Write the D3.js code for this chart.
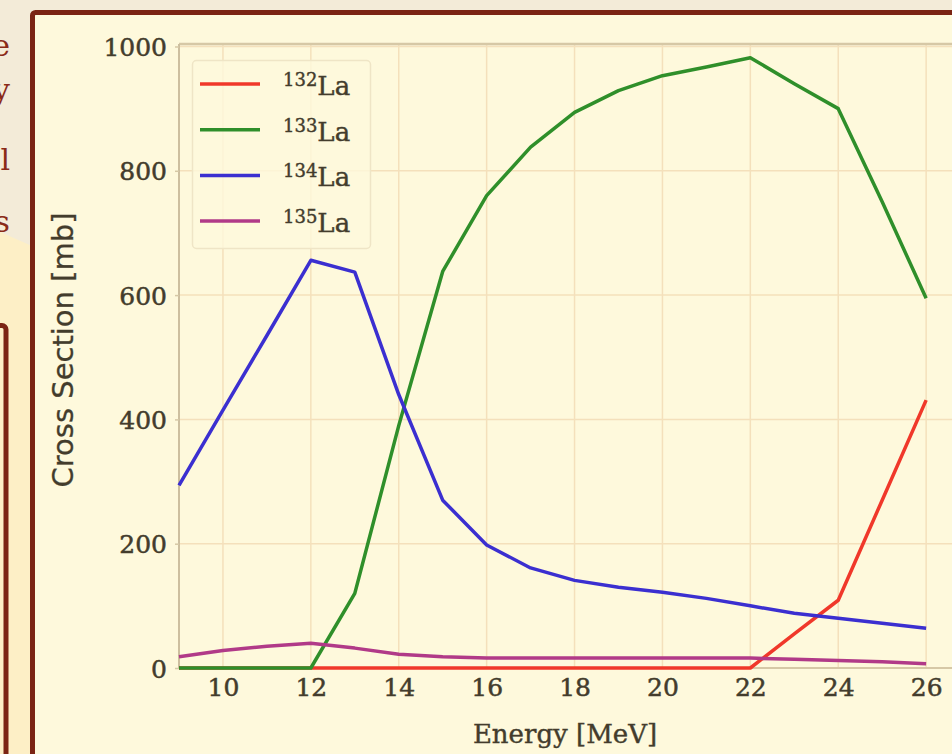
<!DOCTYPE html>
<html>
<head>
<meta charset="utf-8">
<script src="https://cdn.jsdelivr.net/npm/d3@7"></script>
<style>
  html, body { margin: 0; padding: 0; background: #f3ebd8; overflow: hidden; }
  svg { display: block; }
</style>
</head>
<body>
<div id="chart"></div>
<script>
// energies in MeV
const energies = [9, 10, 11, 12, 13, 14, 15, 16, 17, 18, 19, 20, 21, 22, 23, 24, 25, 26];

// cross sections in mb
const la132 = [0, 0, 0, 0, 0, 0, 0, 0, 0, 0, 0, 0, 0, 0, 55, 109, 270, 431];
const la133 = [0, 0, 0, 0, 120, 390, 638, 760, 838, 894, 929, 953, 967, 982, 940, 900, 750, 595];
const la134 = [294, 415, 535, 656, 637, 440, 270, 198, 161, 141, 130, 122, 112, 100, 88, 80, 72, 64];
const la135 = [18, 28, 35, 40, 32, 22, 18, 16, 16, 16, 16, 16, 16, 16, 14, 12, 10, 7];

const seriesNames = ["132", "133", "134", "135"];
const seriesColors = ["#f0382a", "#2f8f2a", "#3b2fd0", "#b13a88"];
const seriesValues = [la132, la133, la134, la135];

const xTicks = [10, 12, 14, 16, 18, 20, 22, 24, 26];
const yTicks = [0, 200, 400, 600, 800, 1000];

const W = 952, H = 754;
const textColor = "#433c2c";

const svg = d3.select("#chart").append("svg")
    .attr("width", W)
    .attr("height", H);

// slide background pieces on the left
svg.append("rect").attr("x", 0).attr("y", 0).attr("width", W).attr("height", H).attr("fill", "#f3ebd8");
svg.append("path")
    .attr("d", "M0,232 L32,246 L32,754 L0,754 Z")
    .attr("fill", "#fdefc6");
svg.append("rect")
    .attr("x", -60).attr("y", 325.5)
    .attr("width", 66).attr("height", 500)
    .attr("rx", 4)
    .attr("fill", "#fdefc6")
    .attr("stroke", "#7b2413")
    .attr("stroke-width", 5);

// ends of words from the slide text, cut by the picture's left edge
const sideText = [
    { t: "e", y: 56 },
    { t: "y", y: 100 },
    { t: "l", y: 170 },
    { t: "s", y: 232 }
];
svg.selectAll("text.side")
    .data(sideText)
    .enter().append("text")
    .attr("class", "side")
    .attr("x", 10)
    .attr("y", d => d.y)
    .attr("text-anchor", "end")
    .attr("font-family", "DejaVu Serif, serif")
    .attr("font-size", 30)
    .attr("fill", "#8a2a18")
    .text(d => d.t);

// chart frame
svg.append("rect")
    .attr("x", 32.5).attr("y", 12.5)
    .attr("width", 1000).attr("height", 900)
    .attr("rx", 3)
    .attr("fill", "#fef9dc")
    .attr("stroke", "#7b2413")
    .attr("stroke-width", 5);

// scales
const x = d3.scaleLinear().domain([9, 26.6]).range([179, 952.5]);
const y = d3.scaleLinear().domain([0, 1004]).range([668, 44]);

const plot = svg.append("g");

// grid
plot.selectAll("line.vgrid")
    .data(xTicks)
    .enter().append("line")
    .attr("x1", d => x(d)).attr("x2", d => x(d))
    .attr("y1", y(0)).attr("y2", y(1004))
    .attr("stroke", "#f4e0bb")
    .attr("stroke-width", 1.5);

plot.selectAll("line.hgrid")
    .data(yTicks)
    .enter().append("line")
    .attr("x1", x(9)).attr("x2", x(26.6))
    .attr("y1", d => y(d)).attr("y2", d => y(d))
    .attr("stroke", "#f4e0bb")
    .attr("stroke-width", 1.5);

// spines
plot.append("line")
    .attr("x1", x(9)).attr("x2", x(26.6))
    .attr("y1", y(1004)).attr("y2", y(1004))
    .attr("stroke", "#d6c8a6").attr("stroke-width", 2.5);
plot.append("line")
    .attr("x1", x(9)).attr("x2", x(26.6))
    .attr("y1", y(0)).attr("y2", y(0))
    .attr("stroke", "#d6c8a6").attr("stroke-width", 2);
plot.append("line")
    .attr("x1", x(9)).attr("x2", x(9))
    .attr("y1", y(0)).attr("y2", y(1004))
    .attr("stroke", "#cdbf9f").attr("stroke-width", 2);

// axes
const yAxis = plot.append("g")
    .attr("transform", `translate(${x(9)},0)`)
    .call(d3.axisLeft(y).tickValues(yTicks).tickFormat(d3.format("d")).tickSize(4).tickPadding(8));
const xAxis = plot.append("g")
    .attr("transform", `translate(0,${y(0)})`)
    .call(d3.axisBottom(x).tickValues(xTicks).tickFormat(d3.format("d")).tickSize(0).tickPadding(9));

[xAxis, yAxis].forEach(a => {
    a.select(".domain").remove();
    a.selectAll(".tick line").attr("stroke", "#d6c8a6").attr("stroke-width", 1.5);
    a.selectAll(".tick text")
        .attr("fill", textColor)
        .attr("stroke", textColor)
        .attr("stroke-width", 0.5)
        .attr("font-family", "DejaVu Serif, serif")
        .attr("font-size", 25);
});
yAxis.selectAll(".tick text").attr("dy", "0.36em");
xAxis.selectAll(".tick text").attr("dy", "0.75em");

// axis labels
svg.append("text")
    .attr("x", 565).attr("y", 743)
    .attr("text-anchor", "middle")
    .attr("font-family", "DejaVu Serif, serif")
    .attr("font-size", 26)
    .attr("fill", textColor)
    .attr("stroke", textColor)
    .attr("stroke-width", 0.4)
    .text("Energy [MeV]");

svg.append("text")
    .attr("transform", "translate(73,350) rotate(-90)")
    .attr("text-anchor", "middle")
    .attr("font-family", "DejaVu Sans, sans-serif")
    .attr("font-size", 29)
    .attr("fill", textColor)
    .attr("stroke", textColor)
    .attr("stroke-width", 0.3)
    .text("Cross Section [mb]");

// lines
const line = d3.line()
    .x((d, i) => x(energies[i]))
    .y(d => y(d));

plot.selectAll("path.series")
    .data(seriesValues)
    .enter().append("path")
    .attr("class", "series")
    .attr("fill", "none")
    .attr("stroke", (d, i) => seriesColors[i])
    .attr("stroke-width", 3.5)
    .attr("stroke-linejoin", "round")
    .attr("d", line);

// legend
const legend = svg.append("g");
legend.append("rect")
    .attr("x", 192.5).attr("y", 60.5)
    .attr("width", 178).attr("height", 188)
    .attr("rx", 4)
    .attr("fill", "#fef9dc")
    .attr("fill-opacity", 0.8)
    .attr("stroke", "#efe5c6")
    .attr("stroke-width", 1.5);

const rows = legend.selectAll("g.row")
    .data(seriesNames)
    .enter().append("g")
    .attr("transform", (d, i) => `translate(0,${84 + i * 45.7})`);

rows.append("line")
    .attr("x1", 200).attr("x2", 260)
    .attr("y1", 0).attr("y2", 0)
    .attr("stroke", (d, i) => seriesColors[i])
    .attr("stroke-width", 3.5);

const lbl = rows.append("text")
    .attr("x", 283).attr("y", 11)
    .attr("font-family", "DejaVu Serif, serif")
    .attr("fill", textColor)
    .attr("stroke", textColor)
    .attr("stroke-width", 0.4);
lbl.append("tspan")
    .attr("font-size", 18)
    .attr("dy", -9)
    .text(d => d);
lbl.append("tspan")
    .attr("font-size", 26)
    .attr("dy", 9)
    .text("La");
</script>
</body>
</html>
